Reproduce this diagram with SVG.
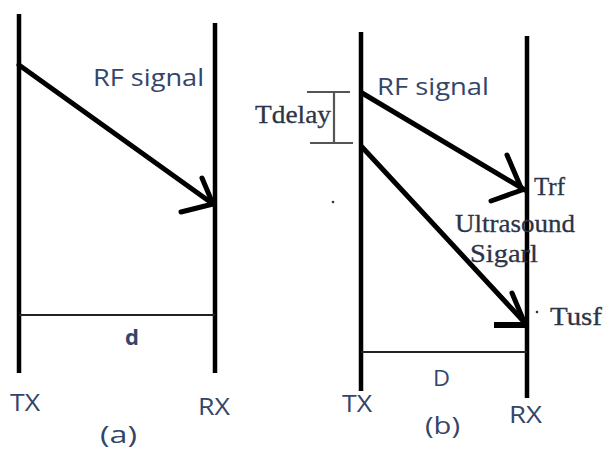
<svg xmlns="http://www.w3.org/2000/svg" width="608" height="456" viewBox="0 0 608 456">
<style>
.life{stroke:#000;stroke-width:4.5;fill:none}
.arr{stroke:#000;stroke-width:5;fill:none;stroke-linecap:round;stroke-linejoin:round}
.thin{stroke:#222;stroke-width:2;fill:none}
.brk{stroke:#555;stroke-width:2.2;fill:none}
.sans{font-family:"Open Sans","Liberation Sans",sans-serif;font-size:24px;font-weight:500;fill:#34456a}
.serif{font-family:"Liberation Serif","DejaVu Serif",serif;font-size:26px;fill:#2c3447;stroke:#2c3447;stroke-width:0.3}
</style>
<rect width="608" height="456" fill="#fff"/>
<g id="panel-a">
  <g id="tx-a"><line class="life" x1="19" y1="14" x2="19" y2="373"/><text class="sans" x="10" y="411" textLength="30" lengthAdjust="spacingAndGlyphs">TX</text></g>
  <g id="rx-a"><line class="life" x1="215" y1="23" x2="215" y2="373"/><text class="sans" x="198" y="415" textLength="32" lengthAdjust="spacingAndGlyphs">RX</text></g>
  <text class="sans" x="93" y="86" textLength="111" lengthAdjust="spacingAndGlyphs">RF signal</text>
  <text class="sans" x="125" y="345" style="font-weight:700;font-size:22px">d</text>
  <text class="sans" x="100" y="443" textLength="37" lengthAdjust="spacingAndGlyphs">(a)</text>
</g>
<g id="panel-b">
  <g id="tx-b"><line class="life" x1="361" y1="32" x2="361" y2="391"/><text class="sans" x="342" y="412" textLength="30" lengthAdjust="spacingAndGlyphs">TX</text></g>
  <g id="rx-b"><line class="life" x1="527" y1="36" x2="527" y2="398"/><text class="sans" x="509" y="423" textLength="33" lengthAdjust="spacingAndGlyphs">RX</text></g>
  <g id="tdelay">
    <path class="brk" d="M307 92H350M310 143H353M334 92V143"/>
    <text class="serif" x="255" y="123" textLength="76" lengthAdjust="spacingAndGlyphs">Tdelay</text>
  </g>
  <text class="sans" x="377" y="95" textLength="112" lengthAdjust="spacingAndGlyphs">RF signal</text>
  <text class="serif" x="534" y="195" textLength="31" lengthAdjust="spacingAndGlyphs">Trf</text>
  <text class="serif" x="455" y="232" textLength="120" lengthAdjust="spacingAndGlyphs">Ultrasound</text>
  <text class="serif" x="470" y="262" textLength="68" lengthAdjust="spacingAndGlyphs">Sigarl</text>
  <circle cx="537" cy="312" r="1.3" fill="#333"/>
  <text class="serif" x="550" y="325" textLength="52" lengthAdjust="spacingAndGlyphs">Tusf</text>
  <circle cx="333" cy="202" r="1.3" fill="#333"/>
  <text class="sans" x="433" y="386" style="font-size:22px" textLength="17" lengthAdjust="spacingAndGlyphs">D</text>
  <text class="sans" x="425" y="434" textLength="35" lengthAdjust="spacingAndGlyphs">(b)</text>
</g>
<g id="connectors">
  <line class="arr" x1="19" y1="65" x2="213" y2="204"/>
  <path class="arr" d="M202 178L213 204L181 212"/>
  <line class="thin" x1="19" y1="315" x2="215" y2="315"/>
  <line class="arr" x1="362" y1="93" x2="525" y2="190"/>
  <path class="arr" d="M507 155L522 190L491 201"/>
  <line class="arr" x1="362" y1="147" x2="526" y2="324"/>
  <path class="arr" d="M512 293L525 324"/>
  <line x1="494" y1="325" x2="528" y2="325" stroke="#000" stroke-width="6"/>
  <line class="thin" x1="361" y1="352" x2="527" y2="352"/>
</g>
</svg>
